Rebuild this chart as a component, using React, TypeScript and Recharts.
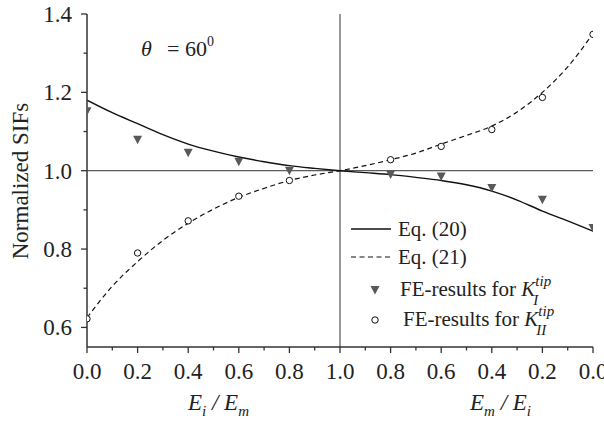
import React from "react";
import {
  ComposedChart,
  Line,
  Scatter,
  XAxis,
  YAxis,
  ReferenceLine,
  Legend,
} from "recharts";

// x runs 0..2: left half is Ei/Em (0 -> 1), right half is Em/Ei (1 -> 0)
const lineX = [0, 0.1, 0.2, 0.3, 0.4, 0.5, 0.6, 0.7, 0.8, 0.9, 1.0, 1.1, 1.2, 1.3, 1.4, 1.5, 1.6, 1.7, 1.8, 1.9, 2.0];
const eq20 = [1.18, 1.148, 1.12, 1.092, 1.068, 1.05, 1.035, 1.023, 1.013, 1.006, 1.0, 0.995, 0.99, 0.983, 0.975, 0.964, 0.948, 0.925, 0.897, 0.872, 0.846];
const eq21 = [0.625, 0.705, 0.768, 0.822, 0.866, 0.902, 0.932, 0.955, 0.975, 0.989, 1.0, 1.013, 1.028, 1.045, 1.068, 1.09, 1.114, 1.15, 1.2, 1.265, 1.35];

const feX = [0, 0.2, 0.4, 0.6, 0.8, 1.2, 1.4, 1.6, 1.8, 2.0];
const feKI = [1.152, 1.079, 1.046, 1.023, 1.0, 0.99, 0.985, 0.956, 0.926, 0.854];
const feKII = [0.622, 0.79, 0.872, 0.935, 0.975, 1.028, 1.062, 1.105, 1.187, 1.348];

const xMajor = [0, 0.2, 0.4, 0.6, 0.8, 1.0, 1.2, 1.4, 1.6, 1.8, 2.0];
const xLabels = ["0.0", "0.2", "0.4", "0.6", "0.8", "1.0", "0.8", "0.6", "0.4", "0.2", "0.0"];
const xMinor = [0.1, 0.3, 0.5, 0.7, 0.9, 1.1, 1.3, 1.5, 1.7, 1.9];
const yMajor = [0.6, 0.8, 1.0, 1.2, 1.4];
const yLabels = ["0.6", "0.8", "1.0", "1.2", "1.4"];
const yMinor = [0.7, 0.9, 1.1, 1.3];

const lineRows = lineX.map((x, i) => ({ x, eq20: eq20[i], eq21: eq21[i] }));
const kIRows = feX.map((x, i) => ({ x, y: feKI[i] }));
const kIIRows = feX.map((x, i) => ({ x, y: feKII[i] }));

const FONT = "'Times New Roman', Times, 'Liberation Serif', 'Noto Serif', 'DejaVu Serif', FreeSerif, serif";
const AXIS = "#333";
const MARK = "#595959";
const txt = { fontFamily: FONT };

const near = (a: number, b: number) => Math.abs(a - b) < 1e-6;

const BottomTick = (props: any) => {
  const { x, y, payload } = props;
  const i = xMajor.findIndex((v) => near(v, payload.value));
  return (
    <g>
      <line x1={x} x2={x} y1={y} y2={y + (i >= 0 ? 6 : 3.5)} stroke={AXIS} strokeWidth={1.3} />
      {i >= 0 && (
        <text x={x} y={y + 32} textAnchor="middle" style={txt} fontSize={23} fill="#222">
          {xLabels[i]}
        </text>
      )}
    </g>
  );
};

const TopTick = (props: any) => {
  const { x, y, payload } = props;
  const major = xMajor.some((v) => near(v, payload.value));
  return <line x1={x} x2={x} y1={y} y2={y + (major ? 4 : 2.5)} stroke={AXIS} strokeWidth={1} />;
};

const LeftTick = (props: any) => {
  const { x, y, payload } = props;
  const i = yMajor.findIndex((v) => near(v, payload.value));
  return (
    <g>
      <line x1={x - (i >= 0 ? 6 : 3.5)} x2={x} y1={y} y2={y} stroke={AXIS} strokeWidth={1.3} />
      {i >= 0 && (
        <text x={x - 15} y={y + 8} textAnchor="end" style={txt} fontSize={23} fill="#222">
          {yLabels[i]}
        </text>
      )}
    </g>
  );
};

const RightTick = (props: any) => {
  const { x, y, payload } = props;
  const major = yMajor.some((v) => near(v, payload.value));
  return <line x1={x - (major ? 4 : 2.5)} x2={x} y1={y} y2={y} stroke={AXIS} strokeWidth={1} />;
};

const Triangle = (props: any) => {
  const { cx, cy } = props;
  if (cx == null || cy == null) return null;
  return <path d={`M${cx - 4.5},${cy - 4} L${cx + 4.5},${cy - 4} L${cx},${cy + 4.5} Z`} fill={MARK} />;
};

const Circle = (props: any) => {
  const { cx, cy } = props;
  if (cx == null || cy == null) return null;
  return <circle cx={cx} cy={cy} r={3.2} fill="#fff" stroke="#111" strokeWidth={1} />;
};

const KTip = ({ sub }: { sub: string }) => (
  <>
    <tspan fontStyle="italic">K</tspan>
    <tspan fontStyle="italic" fontSize={15} dy={-10}>tip</tspan>
    <tspan fontStyle="italic" fontSize={15} dx={-18} dy={19}>{sub}</tspan>
  </>
);

const LegendBox = () => (
  <svg width={604} height={426} style={{ position: "absolute", left: 0, top: 0 }}>
    <g style={txt} fontSize={21} fill="#222">
      <line x1={351} x2={391} y1={229} y2={229} stroke="#111" strokeWidth={1.4} />
      <text x={398} y={236} style={txt}>Eq. (20)</text>
      <line x1={351} x2={391} y1={257} y2={257} stroke="#111" strokeWidth={1.2} strokeDasharray="5 3.5" />
      <text x={398} y={264} style={txt}>Eq. (21)</text>
      <Triangle cx={375} cy={290} />
      <text x={400} y={296} style={txt}>FE-results for <KTip sub="I" /></text>
      <Circle cx={375} cy={320} />
      <text x={403} y={326} style={txt}>FE-results for <KTip sub="II" /></text>
    </g>
  </svg>
);

const RatioLabel = ({ x, a, b }: { x: number; a: string; b: string }) => (
  <text x={x} y={410} style={txt} fontSize={23} fill="#222" fontStyle="italic">
    E<tspan fontSize={15} dy={6}>{a}</tspan>
    <tspan dy={-6}> / E</tspan>
    <tspan fontSize={15} dy={6}>{b}</tspan>
  </text>
);

export default function App() {
  return (
    <div style={{ position: "absolute", left: 0, top: 0, width: 604, height: 426, background: "#fff", fontFamily: FONT }}>
      <ComposedChart width={604} height={426} data={lineRows} margin={{ top: 14, right: 11, bottom: 0, left: 0 }}>
        <XAxis
          dataKey="x"
          type="number"
          domain={[0, 2]}
          ticks={[...xMajor, ...xMinor]}
          interval={0}
          height={79}
          tickSize={0}
          tickMargin={0}
          tickLine={false}
          tick={<BottomTick />}
          axisLine={{ stroke: AXIS, strokeWidth: 1.5 }}
          allowDataOverflow
        />
        <XAxis
          xAxisId="top"
          orientation="top"
          dataKey="x"
          type="number"
          domain={[0, 2]}
          ticks={[...xMajor, ...xMinor]}
          interval={0}
          height={0}
          tickSize={0}
          tickMargin={0}
          tickLine={false}
          tick={<TopTick />}
          axisLine={{ stroke: AXIS, strokeWidth: 1.5 }}
          allowDataOverflow
        />
        <YAxis
          type="number"
          domain={[0.55, 1.4]}
          ticks={[...yMajor, ...yMinor]}
          interval={0}
          width={87}
          tickSize={0}
          tickMargin={0}
          tickLine={false}
          tick={<LeftTick />}
          axisLine={{ stroke: AXIS, strokeWidth: 1.5 }}
          allowDataOverflow
        />
        <YAxis
          yAxisId="right"
          orientation="right"
          type="number"
          domain={[0.55, 1.4]}
          ticks={[...yMajor, ...yMinor]}
          interval={0}
          width={0}
          tickSize={0}
          tickMargin={0}
          tickLine={false}
          tick={<RightTick />}
          axisLine={{ stroke: AXIS, strokeWidth: 1.5 }}
          allowDataOverflow
        />
        <ReferenceLine x={1} stroke={AXIS} strokeWidth={1} />
        <ReferenceLine y={1} stroke={AXIS} strokeWidth={1} />
        <Line dataKey="eq20" type="monotone" stroke="#111" strokeWidth={1.4} dot={false} isAnimationActive={false} />
        <Line dataKey="eq21" type="monotone" stroke="#111" strokeWidth={1.2} strokeDasharray="5 3.5" dot={false} isAnimationActive={false} />
        <Scatter data={kIRows} dataKey="y" shape={<Triangle />} isAnimationActive={false} />
        <Scatter data={kIIRows} dataKey="y" shape={<Circle />} isAnimationActive={false} />
        <Legend
          layout="vertical"
          align="center"
          verticalAlign="middle"
          content={<LegendBox />}
          wrapperStyle={{ left: 0, top: 0, width: 604, height: 426, pointerEvents: "none" }}
        />
      </ComposedChart>
      <svg width={604} height={426} style={{ position: "absolute", left: 0, top: 0, pointerEvents: "none" }}>
        <text
          transform="translate(28,181) rotate(-90)"
          textAnchor="middle"
          style={txt}
          fontSize={23}
          fill="#222"
        >
          Normalized SIFs
        </text>
        <text x={141} y={56} style={txt} fontSize={22} fill="#222">
          <tspan fontStyle="italic">θ</tspan>
          <tspan x={167}>= 60</tspan>
          <tspan fontSize={14} dy={-10}>0</tspan>
        </text>
        <RatioLabel x={188} a="i" b="m" />
        <RatioLabel x={470} a="m" b="i" />
      </svg>
    </div>
  );
}
